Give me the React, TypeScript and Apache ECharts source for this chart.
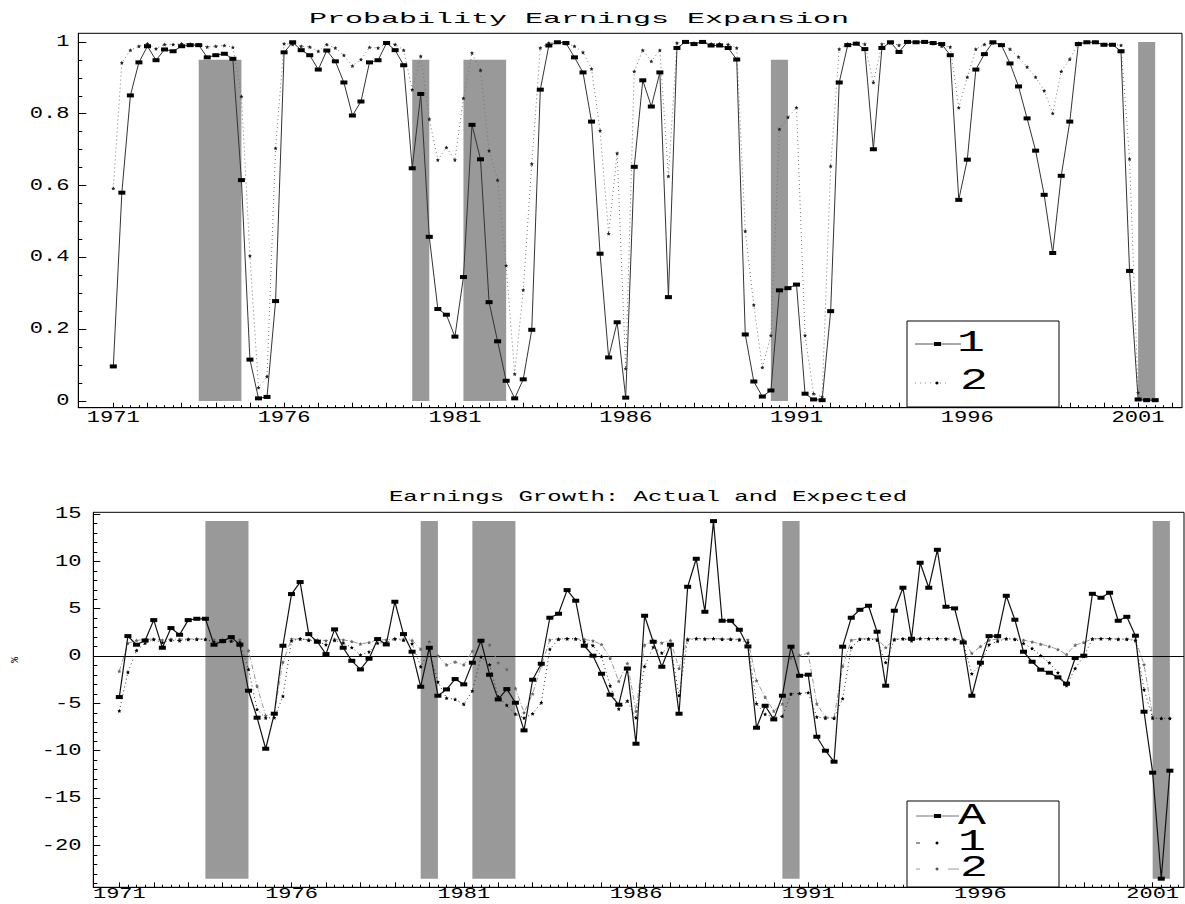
import React, { useEffect, useRef } from "react";
import * as echarts from "echarts";

const START_YEAR = 1971;

// Probability of earnings expansion, model 1 (squares) and model 2 (stars), quarterly from 1971Q1
const prob1 = [
  0.096, 0.58, 0.851, 0.943, 0.988, 0.949, 0.979, 0.974, 0.988, 0.991,
  0.991, 0.957, 0.963, 0.967, 0.953, 0.615, 0.115, 0.007, 0.011, 0.278,
  0.971, 0.999, 0.977, 0.963, 0.923, 0.976, 0.946, 0.887, 0.795, 0.834,
  0.943, 0.949, 0.997, 0.977, 0.935, 0.648, 0.855, 0.457, 0.256, 0.24,
  0.179, 0.345, 0.769, 0.673, 0.275, 0.166, 0.056, 0.007, 0.06, 0.198,
  0.867, 0.99, 0.999, 0.997, 0.957, 0.915, 0.778, 0.41, 0.121, 0.219,
  0.009, 0.652, 0.893, 0.82, 0.915, 0.289, 0.983, 1.0, 0.994, 1.0,
  0.99, 0.99, 0.983, 0.951, 0.185, 0.054, 0.012, 0.029, 0.308, 0.314,
  0.324, 0.02, 0.004, 0.002, 0.25, 0.887, 0.991, 0.995, 0.98, 0.701,
  0.983, 0.999, 0.972, 1.0, 0.999, 1.0, 0.997, 0.994, 0.963, 0.56,
  0.672, 0.923, 0.966, 0.999, 0.991, 0.94, 0.876, 0.787, 0.697, 0.574,
  0.412, 0.627, 0.778, 0.994, 0.999, 0.999, 0.992, 0.992, 0.974, 0.362,
  0.004, 0.002, 0.002,
];

const prob2 = [
  0.592, 0.942, 0.977, 0.988, 0.995, 0.981, 0.993, 0.993, 0.995, 0.994,
  0.993, 0.986, 0.988, 0.99, 0.985, 0.848, 0.404, 0.037, 0.068, 0.704,
  0.995, 0.993, 0.988, 0.986, 0.974, 0.993, 0.983, 0.963, 0.933, 0.951,
  0.985, 0.983, 0.997, 0.993, 0.977, 0.867, 0.96, 0.785, 0.671, 0.706,
  0.671, 0.843, 0.969, 0.921, 0.697, 0.615, 0.377, 0.075, 0.309, 0.66,
  0.983, 0.997, 0.999, 0.995, 0.988, 0.971, 0.925, 0.753, 0.466, 0.69,
  0.09, 0.918, 0.977, 0.946, 0.977, 0.626, 0.997, 1.0, 0.997, 1.0,
  0.995, 0.995, 0.993, 0.983, 0.473, 0.267, 0.093, 0.182, 0.757, 0.79,
  0.817, 0.182, 0.02, 0.011, 0.654, 0.98, 0.995, 0.997, 0.994, 0.887,
  0.994, 0.997, 0.991, 1.0, 1.0, 1.0, 0.995, 0.988, 0.986, 0.817,
  0.902, 0.98, 0.993, 0.997, 0.993, 0.98, 0.958, 0.93, 0.902, 0.864,
  0.801, 0.918, 0.952, 0.997, 1.0, 1.0, 0.993, 0.993, 0.991, 0.674,
  0.023, 0.002, 0.002,
];

// Earnings growth (%): actual (A) and expected under model 1 and model 2
const actual = [
  -4.33, 2.11, 1.2, 1.65, 3.8, 0.88, 2.96, 2.25, 3.8, 3.94,
  3.94, 1.2, 1.58, 2.0, 1.2, -3.66, -6.51, -9.79, -6.09, 1.09,
  6.55, 7.82, 2.32, 1.51, 0.21, 2.82, 0.88, -0.5, -1.41, -0.28,
  1.8, 1.23, 5.74, 2.32, 0.46, -3.24, 0.88, -4.19, -3.52, -2.43,
  -2.99, -0.7, 1.62, -1.97, -4.58, -3.49, -4.93, -7.85, -2.5, -0.81,
  4.05, 4.47, 6.97, 5.85, 1.09, 0.04, -1.87, -4.08, -5.14, -1.32,
  -9.26, 4.26, 1.51, -1.13, 1.2, -6.09, 7.32, 10.28, 4.68, 14.26,
  3.73, 3.73, 2.78, 1.02, -7.57, -5.25, -6.69, -4.19, 0.99, -2.08,
  -1.97, -8.52, -10.0, -11.16, 0.99, 4.05, 4.89, 5.32, 2.57, -3.13,
  4.79, 7.22, 1.83, 9.86, 7.22, 11.23, 5.21, 5.04, 1.44, -4.19,
  -0.7, 2.11, 2.11, 6.37, 3.84, 0.46, -0.6, -1.44, -1.76, -2.25,
  -2.92, -0.21, 0.04, 6.58, 6.16, 6.69, 3.73, 4.15, 2.15, -5.88,
  -12.32, -23.52, -12.11,
];

const expected1 = [
  -5.79, -1.7, 0.59, 1.37, 1.75, 1.42, 1.67, 1.63, 1.75, 1.77,
  1.77, 1.49, 1.54, 1.57, 1.45, -1.4, -5.63, -6.54, -6.51, -4.25,
  1.61, 1.84, 1.66, 1.54, 1.2, 1.65, 1.39, 0.9, 0.12, 0.45,
  1.37, 1.42, 1.82, 1.66, 1.3, -1.12, 0.62, -2.74, -4.44, -4.57,
  -5.09, -3.68, -0.1, -0.91, -4.28, -5.2, -6.13, -6.54, -6.09, -4.93,
  0.73, 1.77, 1.84, 1.82, 1.49, 1.13, -0.03, -3.14, -5.58, -4.75,
  -6.52, -1.09, 0.95, 0.33, 1.13, -4.16, 1.71, 1.85, 1.8, 1.85,
  1.77, 1.77, 1.71, 1.44, -5.04, -6.14, -6.5, -6.36, -4.0, -3.95,
  -3.86, -6.43, -6.57, -6.58, -4.49, 0.9, 1.77, 1.81, 1.68, -0.68,
  1.71, 1.84, 1.61, 1.85, 1.84, 1.85, 1.82, 1.8, 1.54, -1.87,
  -0.92, 1.2, 1.56, 1.84, 1.77, 1.34, 0.8, 0.05, -0.71, -1.75,
  -3.12, -1.3, -0.03, 1.8, 1.84, 1.84, 1.78, 1.78, 1.63, -3.54,
  -6.57, -6.58, -6.58,
];

const expected2 = [
  -1.6, 1.36, 1.66, 1.75, 1.81, 1.69, 1.79, 1.79, 1.81, 1.8,
  1.79, 1.73, 1.75, 1.77, 1.72, 0.57, -3.19, -6.29, -6.03, -0.65,
  1.81, 1.79, 1.75, 1.73, 1.63, 1.79, 1.71, 1.54, 1.28, 1.44,
  1.72, 1.71, 1.82, 1.79, 1.66, 0.73, 1.51, 0.03, -0.93, -0.63,
  -0.93, 0.52, 1.59, 1.18, -0.71, -1.4, -3.41, -5.97, -3.99, -1.02,
  1.71, 1.82, 1.84, 1.81, 1.75, 1.61, 1.22, -0.24, -2.66, -0.77,
  -5.84, 1.16, 1.66, 1.39, 1.66, -1.31, 1.82, 1.85, 1.82, 1.85,
  1.81, 1.81, 1.79, 1.71, -2.6, -4.34, -5.81, -5.06, -0.2, 0.08,
  0.3, -5.06, -6.43, -6.51, -1.07, 1.68, 1.81, 1.82, 1.8, 0.9,
  1.8, 1.82, 1.77, 1.85, 1.85, 1.85, 1.81, 1.75, 1.73, 0.3,
  1.02, 1.68, 1.79, 1.82, 1.79, 1.68, 1.5, 1.26, 1.02, 0.7,
  0.17, 1.16, 1.44, 1.82, 1.85, 1.85, 1.79, 1.79, 1.77, -0.9,
  -6.41, -6.58, -6.58,
];

// Recession periods (start, end) in years, and top heights of the shaded bars in the upper panel
const recessionStart = [1973.5, 1979.75, 1981.25, 1990.25, 2001.0];
const recessionEnd = [1974.75, 1980.25, 1982.5, 1990.75, 2001.5];
const topBarHeight = [0.95, 0.95, 0.95, 0.95, 1.0];

const xLabelYears = [1971, 1976, 1981, 1986, 1991, 1996, 2001];
const topYLabels = [0, 0.2, 0.4, 0.6, 0.8, 1];
const bottomYLabels = [-20, -15, -10, -5, 0, 5, 10, 15];

const topTitle = "Probability Earnings Expansion";
const bottomTitle = "Earnings Growth: Actual and Expected";

const quarters = prob1.map((_, i) => START_YEAR + i / 4);
const quarterTicks = Array.from({ length: 124 }, (_, i) => START_YEAR + i / 4);
const yearTicks = Array.from({ length: 32 }, (_, i) => START_YEAR + i);
const topMinorY = Array.from({ length: 21 }, (_, i) => +(i * 0.05).toFixed(2));
const bottomMinorY = Array.from({ length: 40 }, (_, i) => -24 + i);

const zip = (ys: number[]) => quarters.map((x, i) => [x, ys[i]]);

const FONT = "Liberation Mono";
const STAR =
  "path://M0,-10 L2.9,-4 L9.5,-3.1 L4.7,1.5 L5.9,8.1 L0,5 L-5.9,8.1 L-4.7,1.5 L-9.5,-3.1 L-2.9,-4 Z";

const xAxisDef = (grid: number, min: number, max: number, ticks: number[], len: number, line: boolean) => ({
  type: "value",
  gridIndex: grid,
  min,
  max,
  position: "bottom",
  axisLine: { show: line, onZero: false, lineStyle: { color: "#000", width: 1 } },
  axisTick: { show: true, inside: true, length: len, customValues: ticks, lineStyle: { color: "#000", width: 1 } },
  axisLabel: { show: false },
  splitLine: { show: false },
});

const yAxisDef = (grid: number, min: number, max: number, ticks: number[], len: number, line: boolean) => ({
  type: "value",
  gridIndex: grid,
  min,
  max,
  position: "left",
  axisLine: { show: line, onZero: false, lineStyle: { color: "#000", width: 1 } },
  axisTick: { show: true, inside: true, length: len, customValues: ticks, lineStyle: { color: "#000", width: 1 } },
  axisLabel: { show: false },
  splitLine: { show: false },
});

const bottomBarLow = Math.min(...actual);
const bottomBarHigh = Math.max(...actual);

const option: any = {
  animation: false,
  backgroundColor: "#fff",
  grid: [
    { left: 78.3, top: 33.3, width: 1103.7, height: 374.4, show: true, borderColor: "#000", borderWidth: 1, backgroundColor: "transparent" },
    { left: 93.3, top: 512.3, width: 1090.7, height: 375, show: true, borderColor: "#000", borderWidth: 1, backgroundColor: "transparent" },
  ],
  xAxis: [
    xAxisDef(0, 1969.975, 2002.285, quarterTicks, 2.5, true),
    xAxisDef(0, 1969.975, 2002.285, yearTicks, 5, false),
    xAxisDef(1, 1970.245, 2001.91, quarterTicks, 2.5, true),
    xAxisDef(1, 1970.245, 2001.91, yearTicks, 5, false),
  ],
  yAxis: [
    yAxisDef(0, -0.019, 1.024, topYLabels, 8, true),
    yAxisDef(0, -0.019, 1.024, topMinorY, 4, false),
    yAxisDef(1, -24.43, 15.19, bottomYLabels, 7, true),
    yAxisDef(1, -24.43, 15.19, bottomMinorY, 4, false),
  ],
  series: [
    {
      name: "1",
      type: "line",
      xAxisIndex: 0,
      yAxisIndex: 0,
      data: zip(prob1),
      z: 4,
      symbol: "rect",
      symbolSize: [7, 4],
      itemStyle: { color: "#000" },
      lineStyle: { color: "#333", width: 1 },
      markArea: {
        silent: true,
        z: 1,
        itemStyle: { color: "#999999", opacity: 1 },
        data: recessionStart.map((s, k) => [
          { coord: [s, 0] },
          { coord: [recessionEnd[k], topBarHeight[k]] },
        ]),
      },
    },
    {
      name: "2",
      type: "line",
      xAxisIndex: 0,
      yAxisIndex: 0,
      data: zip(prob2),
      z: 3,
      symbol: STAR,
      symbolSize: 4,
      itemStyle: { color: "#222" },
      lineStyle: { color: "#777", width: 1, type: [1, 3] },
    },
    {
      name: "2e",
      type: "line",
      xAxisIndex: 2,
      yAxisIndex: 2,
      data: zip(expected2),
      z: 3,
      symbol: STAR,
      symbolSize: 4,
      itemStyle: { color: "#666" },
      lineStyle: { color: "#999", width: 1, type: [5, 2, 1, 2] },
    },
    {
      name: "1e",
      type: "line",
      xAxisIndex: 2,
      yAxisIndex: 2,
      data: zip(expected1),
      z: 4,
      symbol: STAR,
      symbolSize: 4,
      itemStyle: { color: "#000" },
      lineStyle: { color: "#333", width: 1, type: [1, 3] },
    },
    {
      name: "A",
      type: "line",
      xAxisIndex: 2,
      yAxisIndex: 2,
      data: zip(actual),
      z: 5,
      symbol: "rect",
      symbolSize: [7, 4],
      itemStyle: { color: "#000" },
      lineStyle: { color: "#111", width: 1.2 },
      markArea: {
        silent: true,
        z: 1,
        itemStyle: { color: "#999999", opacity: 1 },
        data: recessionStart.map((s, k) => [
          { coord: [s, bottomBarLow] },
          { coord: [recessionEnd[k], bottomBarHigh] },
        ]),
      },
      markLine: {
        silent: true,
        symbol: ["none", "none"],
        z: 2,
        label: { show: false },
        lineStyle: { color: "#000", width: 1, type: "solid" },
        data: [{ yAxis: 0 }],
      },
    },
  ],
};

const text = (x: number, y: number, t: string, size: number, sx: number, align: string, extra: any = {}) => ({
  type: "text",
  x,
  y,
  scaleX: sx,
  z: 100,
  ...extra,
  style: { text: t, fontFamily: FONT, fontSize: size, fill: "#000", align, verticalAlign: "middle" },
});

function buildGraphics(chart: any) {
  const g: any[] = [];
  // titles
  g.push(text(579, 19, topTitle, 15, 2.0, "center"));
  g.push(text(648, 497, bottomTitle, 15, 1.6, "center"));
  // x tick labels
  xLabelYears.forEach((yr) => {
    const x0 = chart.convertToPixel({ xAxisIndex: 0 }, yr);
    g.push(text(x0, 418, String(yr), 16, 1.38, "center"));
    const x1 = chart.convertToPixel({ xAxisIndex: 2 }, yr);
    g.push(text(x1, 895, String(yr), 14, 1.57, "center"));
  });
  // y tick labels
  topYLabels.forEach((v) => {
    const y = chart.convertToPixel({ yAxisIndex: 0 }, v);
    g.push(text(69.5, y, String(v), 16, 1.38, "right"));
  });
  bottomYLabels.forEach((v) => {
    const y = chart.convertToPixel({ yAxisIndex: 2 }, v);
    g.push(text(81.5, y, String(v), 16, 1.38, "right"));
  });
  // % axis name
  g.push({
    type: "text",
    x: 15,
    y: 660,
    rotation: Math.PI / 2,
    z: 100,
    style: { text: "%", fontFamily: FONT, fontSize: 10, fill: "#000", align: "center", verticalAlign: "middle" },
  });

  // top legend
  g.push({ type: "rect", z: 90, shape: { x: 907, y: 321, width: 152, height: 86 }, style: { fill: "#fff", stroke: "#000", lineWidth: 1 } });
  g.push({ type: "line", z: 95, shape: { x1: 915, y1: 344, x2: 961, y2: 344 }, style: { stroke: "#555", lineWidth: 1 } });
  g.push({ type: "rect", z: 96, shape: { x: 934, y: 342, width: 7, height: 4 }, style: { fill: "#000" } });
  g.push(text(957, 343, "1", 30, 1.55, "left"));
  g.push({ type: "line", z: 95, shape: { x1: 915, y1: 383, x2: 950, y2: 383 }, style: { stroke: "#888", lineWidth: 1, lineDash: [1, 4] } });
  g.push({ type: "circle", z: 96, shape: { cx: 937, cy: 383, r: 1.5 }, style: { fill: "#000" } });
  g.push(text(960, 381, "2", 30, 1.55, "left"));

  // bottom legend
  g.push({ type: "rect", z: 90, shape: { x: 907, y: 801, width: 152, height: 86 }, style: { fill: "#fff", stroke: "#000", lineWidth: 1 } });
  g.push({ type: "line", z: 95, shape: { x1: 916, y1: 816, x2: 959, y2: 816 }, style: { stroke: "#777", lineWidth: 1 } });
  g.push({ type: "rect", z: 96, shape: { x: 934, y: 814, width: 7, height: 4 }, style: { fill: "#000" } });
  g.push(text(958, 816, "A", 30, 1.55, "left"));
  g.push({ type: "line", z: 95, shape: { x1: 916, y1: 843, x2: 920, y2: 843 }, style: { stroke: "#333", lineWidth: 1 } });
  g.push({ type: "circle", z: 96, shape: { cx: 937, cy: 843, r: 1.5 }, style: { fill: "#000" } });
  g.push(text(958, 842, "1", 30, 1.55, "left"));
  g.push({ type: "line", z: 95, shape: { x1: 916, y1: 869, x2: 920, y2: 869 }, style: { stroke: "#999", lineWidth: 1 } });
  g.push({ type: "circle", z: 96, shape: { cx: 937, cy: 869, r: 1.5 }, style: { fill: "#555" } });
  g.push({ type: "line", z: 95, shape: { x1: 948, y1: 869, x2: 959, y2: 869 }, style: { stroke: "#999", lineWidth: 1 } });
  g.push(text(960, 868, "2", 30, 1.55, "left"));
  return g;
}

export default function App() {
  const ref = useRef<HTMLDivElement>(null);
  useEffect(() => {
    if (!ref.current) return;
    const chart = echarts.init(ref.current, null, { renderer: "svg" });
    chart.setOption(option);
    chart.setOption({ graphic: buildGraphics(chart) });
    return () => chart.dispose();
  }, []);
  return (
    <div
      ref={ref}
      style={{ position: "fixed", left: 0, top: 0, width: 1185, height: 904, background: "#fff" }}
    />
  );
}
